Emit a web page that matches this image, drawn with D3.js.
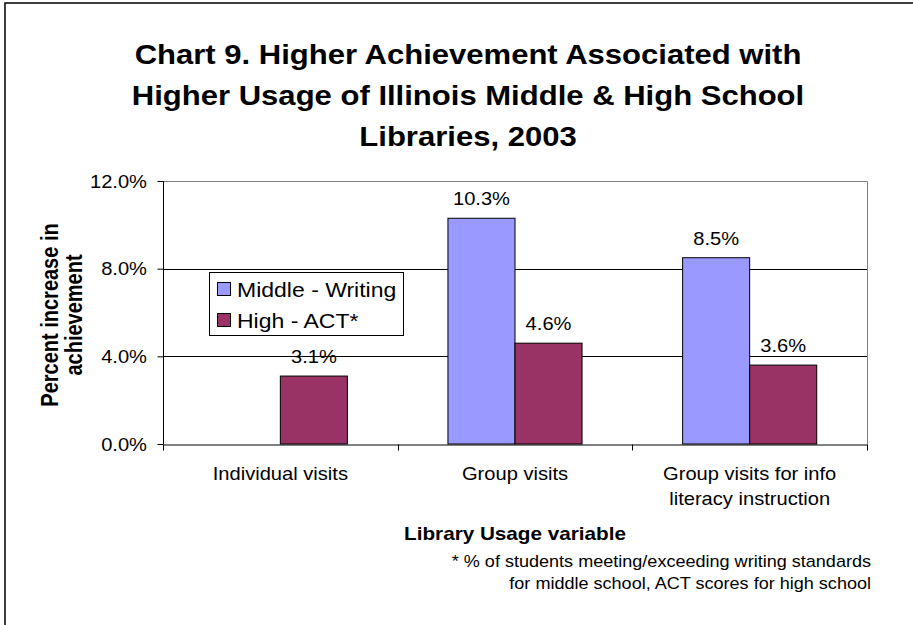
<!DOCTYPE html>
<html>
<head>
<meta charset="utf-8">
<script src="https://cdn.jsdelivr.net/npm/d3@7"></script>
<style>
  html, body { margin: 0; padding: 0; background: #fff; }
  svg { display: block; }
  text { font-family: "Liberation Sans", Arial, sans-serif; fill: #000; }
</style>
</head>
<body>
<svg id="chart" width="913" height="625"></svg>
<script>
// ---- data ----
const categories = [["Individual visits"], ["Group visits"], ["Group visits for info", "literacy instruction"]];
const seriesNames = ["Middle - Writing", "High - ACT*"];
const middleWriting = [null, 10.3, 8.5];
const highACT = [3.1, 4.6, 3.6];
const yTicks = [0, 4, 8, 12];
const titleLines = ["Chart 9. Higher Achievement Associated with", "Higher Usage of Illinois Middle & High School", "Libraries, 2003"];
const yTitleLines = ["Percent increase in", "achievement"];
const xTitle = "Library Usage variable";
const footnoteLines = ["* % of students meeting/exceeding writing standards", "for middle school, ACT scores for high school"];
const colors = ["#9999FF", "#993366"];

// ---- layout ----
const SX = 1.15;
const svg = d3.select("#chart");
const plot = { left: 163, right: 867, top: 181, bottom: 444 };

function txt(x, y, str, size, opts = {}) {
  const t = svg.append("text")
    .attr("transform", `translate(${x},${y}) scale(${SX},1)` + (opts.rotate ? ` rotate(${opts.rotate})` : ""))
    .attr("font-size", size)
    .attr("text-anchor", opts.anchor || "middle")
    .attr("font-weight", opts.bold ? "bold" : "normal")
    .text(str);
  return t;
}

// outer border
svg.append("rect").attr("x", 5).attr("y", 3).attr("width", 1000).attr("height", 1000)
  .attr("fill", "none").attr("stroke", "#000").attr("stroke-width", 1.5);

// title
titleLines.forEach((l, i) => txt(468, 64 + i * 41, l, 27, { bold: true }));

const x0 = d3.scaleBand().domain(d3.range(categories.length)).range([plot.left, plot.right]);
const bw = x0.bandwidth();
const off = bw * 0.75 / 3.5;
const x1 = d3.scaleBand().domain(d3.range(seriesNames.length)).range([off, bw - off]);
const y = d3.scaleLinear().domain([0, 12]).range([plot.bottom, plot.top]);

// gridlines
svg.append("g").selectAll("line").data(yTicks.filter(d => d > 0 && d < 12)).join("line")
  .attr("x1", plot.left).attr("x2", plot.right)
  .attr("y1", d => Math.round(y(d)) + 0.5).attr("y2", d => Math.round(y(d)) + 0.5)
  .attr("stroke", "#000").attr("stroke-width", 1);

// plot border (top/right gray)
svg.append("path")
  .attr("d", `M${plot.left},${plot.top + 0.5}H${plot.right + 0.5}V${plot.bottom}`)
  .attr("fill", "none").attr("stroke", "#808080").attr("stroke-width", 1);

// bars
const series = [middleWriting, highACT];
series.forEach((vals, si) => {
  const g = svg.append("g");
  const data = vals.map((v, ci) => ({ v, ci })).filter(d => d.v != null);
  g.selectAll("rect").data(data).join("rect")
    .attr("x", d => x0(d.ci) + x1(si))
    .attr("y", d => y(d.v))
    .attr("width", x1.bandwidth())
    .attr("height", d => y(0) - y(d.v))
    .attr("fill", colors[si]).attr("stroke", "#000").attr("stroke-width", 1);
  data.forEach(d => {
    txt(x0(d.ci) + x1(si) + x1.bandwidth() / 2, y(d.v) - 13, d.v.toFixed(1) + "%", 17.5);
  });
});

// y axis
const yAxis = d3.axisLeft(y).tickValues(yTicks).tickSize(6).tickFormat(d => "");
const yg = svg.append("g").attr("transform", `translate(${plot.left + 0.5},0)`).call(yAxis);
yg.selectAll("path,line").attr("stroke", "#000");
yg.select(".domain").attr("d", `M0,${plot.top}V${plot.bottom}`);
yTicks.forEach(t => txt(147, y(t) + 6.5, t.toFixed(1) + "%", 17.5, { anchor: "end" }));

// x axis
const xAxis = d3.axisBottom(x0).tickValues([]).tickSizeOuter(0);
const xg = svg.append("g").attr("transform", `translate(0,${plot.bottom + 0.5})`).call(xAxis);
xg.select(".domain").attr("stroke", "#000");
const bounds = d3.range(categories.length + 1).map(i => i < categories.length ? x0(i) : plot.right);
xg.selectAll(".bt").data(bounds).join("line").attr("class", "bt")
  .attr("x1", d => Math.round(d) + 0.5).attr("x2", d => Math.round(d) + 0.5)
  .attr("y1", 0).attr("y2", 6).attr("stroke", "#000");
categories.forEach((lines, ci) => {
  lines.forEach((l, li) => txt(x0(ci) + bw / 2, 480 + li * 25, l, 17.5));
});

// axis titles
txt(515, 540, xTitle, 18, { bold: true });
yTitleLines.forEach((l, i) => txt(58 + i * 24 , 315, l, 20, { bold: true, rotate: -90 }));

// legend
const lg = svg.append("g");
lg.append("rect").attr("x", 209.5).attr("y", 272.5).attr("width", 194).attr("height", 63)
  .attr("fill", "#fff").attr("stroke", "#000").attr("stroke-width", 1);
seriesNames.forEach((n, i) => {
  lg.append("rect").attr("x", 217.5).attr("y", 282.5 + i * 31).attr("width", 13).attr("height", 13)
    .attr("fill", colors[i]).attr("stroke", "#000").attr("stroke-width", 1);
  txt(237, 296.5 + i * 31, n, 20, { anchor: "start" });
});

// footnote
footnoteLines.forEach((l, i) => txt(871, 567 + i * 22, l, 15.7, { anchor: "end" }));
</script>
</body>
</html>
